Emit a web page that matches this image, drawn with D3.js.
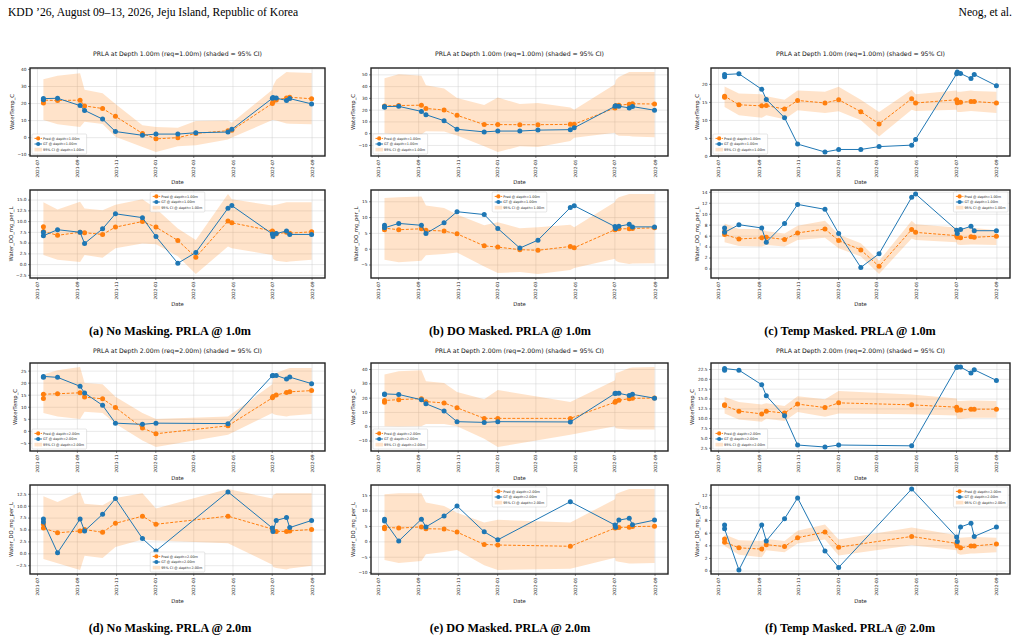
<!DOCTYPE html>
<html><head><meta charset="utf-8">
<script src="https://cdn.jsdelivr.net/npm/d3@7"></script>
<style>body{margin:0;background:#fff} svg{display:block}</style>
</head><body><svg id="c" width="1020" height="643"></svg>
<script>
// ---------------- DATA ----------------
const dates1m = ["2021-07-11","2021-07-11","2021-08-02","2021-09-06","2021-09-13","2021-10-11","2021-10-31","2021-12-12","2022-01-02","2022-02-05","2022-03-05","2022-04-24","2022-04-30","2022-07-02","2022-07-03","2022-07-08","2022-07-24","2022-07-29","2022-09-01"];
const dates2m = ["2021-07-11","2021-07-11","2021-08-02","2021-09-06","2021-09-13","2021-10-11","2021-10-31","2021-12-12","2022-01-02","2022-04-24","2022-07-02","2022-07-03","2022-07-08","2022-07-24","2022-07-29","2022-09-01"];
const xTickLabels = ["2021-07","2021-09","2021-11","2022-01","2022-03","2022-05","2022-07","2022-09"];

const gtTemp1m = [22.0,22.6,22.8,18.5,15.7,10.6,3.3,1.1,1.8,1.8,2.6,3.0,4.6,22.8,23.3,22.9,21.5,22.6,19.5];
const gtDO1m   = [7.4,6.6,8.0,7.4,4.8,8.2,11.7,10.8,6.4,0.2,2.7,13.0,13.6,7.0,6.4,7.1,7.7,6.9,6.9];
const gtTemp2m = [22.2,22.6,22.2,18.5,15.7,10.6,3.2,2.7,3.2,3.0,22.9,23.0,23.0,21.5,22.3,19.6];
const gtDO2m   = [7.2,6.6,0.1,7.2,4.7,8.2,11.5,3.1,0.5,12.9,5.3,4.6,6.9,7.5,5.4,6.9];

// (a) No Masking, 1.0m
const predTempA = [20.0,21.7,21.5,21.7,18.3,16.8,12.2,2.2,-1.0,-0.3,2.2,3.8,4.0,19.8,20.8,21.8,23.0,23.4,22.5];
const loTempA   = [10.0,10.0,7.5,6.0,9.0,7.7,0.2,-5.7,-8.7,-5.3,-4.7,-1.4,-0.2,10.0,10.0,9.7,8.0,7.9,7.5];
const hiTempA   = [34.0,34.0,36.0,37.5,27.8,25.8,19.5,7.0,6.0,5.5,9.5,9.7,8.5,27.8,30.0,33.7,38.2,38.0,37.6];
const predDOA   = [8.7,7.6,6.7,7.4,7.3,6.9,8.6,9.9,8.6,5.5,1.6,10.0,9.6,7.7,7.4,7.0,7.4,7.2,7.5];
const loDOA     = [2.1,2.1,1.0,0.5,2.1,1.5,3.7,4.8,4.6,1.8,-2.3,4.1,3.7,2.1,1.2,0.8,0.5,0.6,1.0];
const hiDOA     = [15.5,14.4,12.7,14.5,12.9,12.5,13.8,15.1,12.9,8.3,5.6,16.3,15.1,13.6,13.7,13.8,14.4,14.4,14.4];
// (b) DO Masked, 1.0m
const predTempB = [22.5,23.2,23.5,23.8,21.0,19.7,15.2,7.3,7.3,7.2,7.2,7.5,7.6,21.5,23.3,23.8,24.6,25.0,24.8];
const loTempB   = [0.0,0.0,-1.1,-1.1,1.7,1.4,-2.0,-11.2,-16.0,-11.2,-11.8,-6.7,-3.9,0.3,-1.0,-2.2,-2.5,-2.8,-3.4];
const hiTempB   = [46.6,46.6,50.0,48.9,40.7,37.9,29.8,23.9,30.3,24.7,25.6,21.9,20.0,41.6,45.0,47.8,52.0,52.0,52.0];
const predDOB   = [6.0,6.5,6.0,6.3,5.8,5.6,4.7,0.9,0.5,-0.3,-0.5,0.7,0.3,6.0,6.2,6.3,6.3,6.4,6.6];
const loDOB     = [-3.5,-3.5,-4.3,-3.8,-2.1,-1.7,-1.2,-5.6,-7.7,-7.4,-8.0,-6.7,-6.1,-3.2,-3.8,-4.3,-4.8,-4.7,-4.6];
const hiDOB     = [16.0,16.0,16.3,16.5,13.7,12.9,10.8,7.4,8.4,6.5,6.8,7.6,6.8,14.8,15.5,16.3,17.3,17.3,17.3];
// (c) Temp Masked, 1.0m
const predTempC = [16.3,16.6,14.2,13.9,14.0,13.0,15.4,14.7,15.6,12.3,8.9,15.9,14.7,15.6,14.8,14.9,15.1,15.1,14.7];
const loTempC   = [13.6,13.6,11.3,10.6,11.3,10.2,12.7,11.9,12.4,9.9,5.4,12.8,12.5,12.8,12.2,12.2,12.5,12.4,11.9];
const hiTempC   = [19.3,19.3,17.3,17.1,16.6,15.6,18.2,17.8,19.2,15.6,12.2,18.4,17.1,18.2,17.8,17.8,18.2,18.0,17.8];
const predDOC   = [6.7,6.2,5.4,5.6,5.7,5.3,6.5,7.2,5.1,3.4,0.4,7.1,6.6,6.0,5.7,5.6,5.8,5.7,5.9];
const loDOC     = [4.8,4.8,4.1,4.0,4.3,4.0,5.2,5.6,3.7,2.2,-1.0,5.5,5.2,4.8,4.4,4.3,4.4,4.4,4.3];
const hiDOC     = [8.2,8.2,7.2,7.2,6.8,6.4,7.8,8.7,6.2,4.6,1.4,8.7,8.1,7.5,7.2,7.2,7.5,7.4,7.0];
// (d) No Masking, 2.0m
const predTempD = [13.4,15.2,15.4,15.8,14.0,13.3,9.7,1.2,-1.2,2.1,13.7,14.3,14.9,15.9,16.2,16.7];
const loTempD   = [7.4,7.4,6.0,4.9,7.9,7.4,2.9,-4.0,-6.7,-1.6,7.4,7.0,6.6,6.0,6.3,7.0];
const hiTempD   = [23.4,23.4,25.1,26.5,19.9,19.3,14.2,7.4,4.9,6.0,19.3,21.6,24.0,25.7,26.1,26.1];
const predDOD   = [6.1,5.3,4.3,4.7,5.0,4.4,6.3,7.8,6.1,7.8,5.1,4.7,4.6,4.6,4.7,5.0];
const loDOD     = [-1.2,-1.2,-2.1,-3.5,-0.5,-1.0,1.3,2.9,2.7,2.1,-2.4,-2.9,-3.1,-3.4,-3.2,-2.6];
const hiDOD     = [13.5,12.0,10.8,12.9,10.4,10.1,11.6,12.6,9.4,13.5,11.5,12.2,12.6,12.6,12.6,12.6];
// (e) DO Masked, 2.0m
const predTempE = [16.8,18.0,18.6,19.3,17.2,16.3,12.9,5.5,5.5,5.5,16.8,17.5,18.2,19.2,19.5,19.7];
const loTempE   = [0.0,0.0,-0.2,0.0,1.6,1.6,0.0,-8.7,-14.5,-6.0,0.0,-1.4,-1.8,-2.3,-2.3,-2.3];
const hiTempE   = [36.1,36.1,38.4,39.1,31.5,30.3,23.9,18.9,25.3,17.0,32.2,37.2,37.8,40.7,41.0,41.4];
const predDOE   = [4.1,4.6,4.3,4.7,4.1,4.0,3.0,-1.0,-1.2,-1.6,4.3,4.4,4.5,4.6,4.8,4.9];
const loDOE     = [-6.1,-6.1,-7.0,-6.4,-4.2,-3.5,-2.8,-7.8,-9.3,-8.9,-5.3,-6.4,-6.6,-7.2,-7.2,-7.0];
const hiDOE     = [15.3,15.3,15.6,15.6,12.6,11.5,9.3,6.1,7.0,6.1,13.7,15.3,15.8,17.0,17.0,17.0];
// (f) Temp Masked, 2.0m
const predTempF = [13.4,13.2,11.8,11.1,11.8,11.3,13.6,12.7,13.9,13.4,12.8,12.0,12.1,12.3,12.3,12.3];
const loTempF   = [11.2,11.2,9.7,9.1,9.9,9.3,11.6,10.4,11.2,11.0,10.7,9.9,9.9,10.1,10.1,10.1];
const hiTempF   = [15.4,15.4,14.1,13.5,13.8,13.1,15.6,14.8,16.9,16.0,15.0,14.4,14.4,14.5,14.5,14.4];
const predDOF   = [5.0,4.5,3.6,3.4,4.1,3.8,5.2,6.1,3.7,5.4,4.3,3.9,3.6,3.9,3.9,4.2];
const loDOF     = [3.9,3.9,2.5,2.1,3.2,2.9,4.3,4.9,2.4,4.0,3.2,2.7,2.5,2.7,2.7,2.9];
const hiDOF     = [5.7,5.7,4.8,4.7,5.0,4.7,6.3,7.3,4.9,6.8,5.6,5.4,5.2,5.3,5.3,5.2];

// y tick labels per subplot
const yTicksTempA = [-10,0,10,20,30,40];
const yTicksDOA   = [-2.5,0,2.5,5,7.5,10,12.5,15];
const yTicksTempB = [-10,0,10,20,30,40,50];
const yTicksDOB   = [-5,0,5,10,15];
const yTicksTempC = [0,5,10,15,20];
const yTicksDOC   = [0,2,4,6,8,10,12,14];
const yTicksTempD = [-5,0,5,10,15,20,25];
const yTicksDOD   = [-2.5,0,2.5,5,7.5,10,12.5];
const yTicksTempE = [-10,0,10,20,30,40];
const yTicksDOE   = [-10,-5,0,5,10,15];
const yTicksTempF = [2.5,5,7.5,10,12.5,15,17.5,20,22.5];
const yTicksDOF   = [0,2,4,6,8,10,12];

const captions = ["(a) No Masking. PRLA @ 1.0m","(b) DO Masked. PRLA @ 1.0m","(c) Temp Masked. PRLA @ 1.0m",
                  "(d) No Masking. PRLA @ 2.0m","(e) DO Masked. PRLA @ 2.0m","(f) Temp Masked. PRLA @ 2.0m"];
const headerLeft = "KDD \u201926, August 09\u201313, 2026, Jeju Island, Republic of Korea";
const headerRight = "Neog, et al.";

// ---------------- LAYOUT ----------------
const svg = d3.select("#c");
const FONT = "DejaVu Sans, sans-serif";
const SERIF = "Liberation Serif, Times New Roman, serif";
const ORANGE = "#ff7f0e", BLUE = "#1f77b4";
const parse = d3.utcParse("%Y-%m-%d");
const parseM = d3.utcParse("%Y-%m");

const colX = [30, 371, 711], colW = [295, 297, 299];
const rows = [
  {title:56, top:[68,156], topDate:184, bot:[190,278], botDate:306, cap:335},
  {title:353, top:[363,451], topDate:480, bot:[485,574], botDate:603, cap:632}
];

svg.append("text").attr("x",8).attr("y",16).attr("font-family",SERIF).attr("font-size",11.6).text(headerLeft);
svg.append("text").attr("x",1012).attr("y",16).attr("text-anchor","end").attr("font-family",SERIF).attr("font-size",11.6).text(headerRight);

function fmt(v, dec){ return (v<0?"\u2212":"") + Math.abs(v).toFixed(dec); }

function legend(g, x0, y0, w, h, pos, depth){
  const lg = g.append("g");
  const fs = 3.4, rowH = 5.6, pad = 1.6;
  const labels = [`Pred @ depth=${depth}`, `GT @ depth=${depth}`, `95% CI @ depth=${depth}`];
  const box = lg.append("rect");
  const texts = labels.map((t,i)=> lg.append("text").attr("x",11).attr("y",pad+rowH*i+rowH/2)
      .attr("dy","0.35em").attr("font-family",FONT).attr("font-size",fs).attr("fill","#222").text(t));
  const tw = d3.max(texts, t=>t.node().getComputedTextLength());
  const bw = 11 + tw + 2.5, bh = pad*2 + rowH*3;
  box.attr("width",bw).attr("height",bh).attr("rx",1).attr("fill","#fff").attr("fill-opacity",0.8)
     .attr("stroke","#ccc").attr("stroke-width",0.5);
  const cy0 = pad + rowH/2;
  lg.append("line").attr("x1",2.5).attr("x2",10).attr("y1",cy0).attr("y2",cy0).attr("stroke",ORANGE).attr("stroke-width",1).attr("stroke-dasharray","2.2,1");
  lg.append("circle").attr("cx",6.2).attr("cy",cy0).attr("r",2.1).attr("fill",ORANGE);
  const cy1 = pad + rowH*1.5;
  lg.append("line").attr("x1",2.5).attr("x2",10).attr("y1",cy1).attr("y2",cy1).attr("stroke",BLUE).attr("stroke-width",1);
  lg.append("circle").attr("cx",6.2).attr("cy",cy1).attr("r",2.1).attr("fill",BLUE);
  const cy2 = pad + rowH*2.5;
  lg.append("rect").attr("x",2.5).attr("y",cy2-1.8).attr("width",7.5).attr("height",3.6).attr("fill",ORANGE).attr("fill-opacity",0.22);
  let lx, ly;
  const m = 2;
  if (pos==="lower left"){ lx = x0+m; ly = y0+h-m-bh; }
  else if (pos==="upper center"){ lx = x0+w/2-bw/2; ly = y0+m; }
  else if (pos==="lower center"){ lx = x0+w/2-bw/2; ly = y0+h-m-bh; }
  else if (pos==="upper right"){ lx = x0+w-m-bw; ly = y0+m; }
  lg.attr("transform",`translate(${lx},${ly})`);
}

function subplot(cfg){
  const g = svg.append("g");
  const t = cfg.dates.map(parse);
  const [tmin,tmax] = d3.extent(t);
  const pad = (tmax - tmin)*0.05;
  const x = d3.scaleUtc().domain([new Date(+tmin-pad), new Date(+tmax+pad)]).range([cfg.x0, cfg.x0+cfg.w]);
  const all = [...cfg.pred, ...cfg.lo, ...cfg.hi, ...cfg.gt];
  const [ymin,ymax] = d3.extent(all); const yp = (ymax-ymin)*0.05;
  const y = d3.scaleLinear().domain([ymin-yp, ymax+yp]).range([cfg.y0+cfg.h, cfg.y0]);
  const xt = xTickLabels.map(parseM);

  // grid
  const gx = g.append("g").attr("transform",`translate(0,${cfg.y0+cfg.h})`)
    .call(d3.axisBottom(x).tickValues(xt).tickSize(-cfg.h).tickFormat(""));
  const gy = g.append("g").attr("transform",`translate(${cfg.x0},0)`)
    .call(d3.axisLeft(y).tickValues(cfg.yTicks).tickSize(-cfg.w).tickFormat(""));
  [gx,gy].forEach(a=>{ a.select(".domain").remove(); a.selectAll("line").attr("stroke","#c8c8c8").attr("stroke-width",0.5).attr("stroke-opacity",0.8); });

  const idx = d3.range(t.length);
  g.append("path").datum(idx)
    .attr("d", d3.area().x(i=>x(t[i])).y0(i=>y(cfg.lo[i])).y1(i=>y(cfg.hi[i])))
    .attr("fill", ORANGE).attr("fill-opacity", 0.22);
  g.append("path").datum(idx).attr("d", d3.line().x(i=>x(t[i])).y(i=>y(cfg.pred[i])))
    .attr("fill","none").attr("stroke",ORANGE).attr("stroke-width",1).attr("stroke-dasharray","3,1.6");
  g.append("g").selectAll("circle").data(idx).join("circle")
    .attr("cx",i=>x(t[i])).attr("cy",i=>y(cfg.pred[i])).attr("r",2.5).attr("fill",ORANGE);
  g.append("path").datum(idx).attr("d", d3.line().x(i=>x(t[i])).y(i=>y(cfg.gt[i])))
    .attr("fill","none").attr("stroke",BLUE).attr("stroke-width",1);
  g.append("g").selectAll("circle").data(idx).join("circle")
    .attr("cx",i=>x(t[i])).attr("cy",i=>y(cfg.gt[i])).attr("r",2.5).attr("fill",BLUE);

  const ax = g.append("g").attr("transform",`translate(0,${cfg.y0+cfg.h})`)
    .call(d3.axisBottom(x).tickValues(xt).tickSize(2).tickPadding(1.5).tickFormat(d3.utcFormat("%Y-%m")));
  ax.select(".domain").remove();
  ax.selectAll("line").attr("stroke","#222").attr("stroke-width",0.5);
  ax.selectAll("text").attr("font-family",FONT).attr("font-size",4.3).attr("fill","#222")
    .attr("transform","rotate(-90)").attr("text-anchor","end").attr("x",-3.5).attr("y",0).attr("dy","0.35em");
  const ay = g.append("g").attr("transform",`translate(${cfg.x0},0)`)
    .call(d3.axisLeft(y).tickValues(cfg.yTicks).tickSize(2).tickPadding(1.5).tickFormat(v=>fmt(v,cfg.dec)));
  ay.select(".domain").remove();
  ay.selectAll("line").attr("stroke","#222").attr("stroke-width",0.5);
  ay.selectAll("text").attr("font-family",FONT).attr("font-size",4.3).attr("fill","#222");
  const bb = ay.node().getBBox();
  const labelX = cfg.x0 + bb.x - 3.5;

  g.append("rect").attr("x",cfg.x0).attr("y",cfg.y0).attr("width",cfg.w).attr("height",cfg.h)
    .attr("fill","none").attr("stroke","#222").attr("stroke-width",1.4);

  g.append("text").attr("transform",`translate(${labelX},${cfg.y0+cfg.h/2}) rotate(-90)`)
    .attr("text-anchor","middle").attr("font-family",FONT).attr("font-size",5.3).attr("fill","#222").text(cfg.yLabel);
  g.append("text").attr("x",cfg.x0+cfg.w/2).attr("y",cfg.dateY).attr("text-anchor","middle")
    .attr("font-family",FONT).attr("font-size",5.3).attr("fill","#222").text("Date");

  legend(g, cfg.x0, cfg.y0, cfg.w, cfg.h, cfg.legendPos, cfg.depth);
}

const panels = [
  {row:0,col:0,dates:dates1m,depth:"1.00m",gtT:gtTemp1m,gtD:gtDO1m,pT:predTempA,lT:loTempA,hT:hiTempA,pD:predDOA,lD:loDOA,hD:hiDOA,tT:yTicksTempA,tD:yTicksDOA,decT:0,decD:1,legT:"lower left",legD:"upper center"},
  {row:0,col:1,dates:dates1m,depth:"1.00m",gtT:gtTemp1m,gtD:gtDO1m,pT:predTempB,lT:loTempB,hT:hiTempB,pD:predDOB,lD:loDOB,hD:hiDOB,tT:yTicksTempB,tD:yTicksDOB,decT:0,decD:0,legT:"lower left",legD:"upper center"},
  {row:0,col:2,dates:dates1m,depth:"1.00m",gtT:gtTemp1m,gtD:gtDO1m,pT:predTempC,lT:loTempC,hT:hiTempC,pD:predDOC,lD:loDOC,hD:hiDOC,tT:yTicksTempC,tD:yTicksDOC,decT:0,decD:0,legT:"lower left",legD:"upper right"},
  {row:1,col:0,dates:dates2m,depth:"2.00m",gtT:gtTemp2m,gtD:gtDO2m,pT:predTempD,lT:loTempD,hT:hiTempD,pD:predDOD,lD:loDOD,hD:hiDOD,tT:yTicksTempD,tD:yTicksDOD,decT:0,decD:1,legT:"lower left",legD:"lower center"},
  {row:1,col:1,dates:dates2m,depth:"2.00m",gtT:gtTemp2m,gtD:gtDO2m,pT:predTempE,lT:loTempE,hT:hiTempE,pD:predDOE,lD:loDOE,hD:hiDOE,tT:yTicksTempE,tD:yTicksDOE,decT:0,decD:0,legT:"lower left",legD:"upper center"},
  {row:1,col:2,dates:dates2m,depth:"2.00m",gtT:gtTemp2m,gtD:gtDO2m,pT:predTempF,lT:loTempF,hT:hiTempF,pD:predDOF,lD:loDOF,hD:hiDOF,tT:yTicksTempF,tD:yTicksDOF,decT:1,decD:0,legT:"lower left",legD:"upper right"}
];

panels.forEach((p,k)=>{
  const r = rows[p.row], x0 = colX[p.col], w = colW[p.col];
  svg.append("text").attr("x",x0+w/2).attr("y",r.title).attr("text-anchor","middle")
    .attr("font-family",FONT).attr("font-size",6.2).attr("fill","#111")
    .text(`PRLA at Depth ${p.depth} (req=${p.depth}) (shaded = 95% CI)`);
  subplot({x0, w, y0:r.top[0], h:r.top[1]-r.top[0], dates:p.dates, pred:p.pT, lo:p.lT, hi:p.hT, gt:p.gtT,
    yTicks:p.tT, dec:p.decT, yLabel:"WaterTemp_C", dateY:r.topDate, legendPos:p.legT, depth:p.depth});
  subplot({x0, w, y0:r.bot[0], h:r.bot[1]-r.bot[0], dates:p.dates, pred:p.pD, lo:p.lD, hi:p.hD, gt:p.gtD,
    yTicks:p.tD, dec:p.decD, yLabel:"Water_DO_mg_per_L", dateY:r.botDate, legendPos:p.legD, depth:p.depth});
  svg.append("text").attr("x",[170,510,850][p.col]).attr("y",r.cap).attr("text-anchor","middle")
    .attr("font-family",SERIF).attr("font-weight","bold").attr("font-size",12.2).attr("fill","#000").text(captions[k]);
});
</script>
</body></html>
